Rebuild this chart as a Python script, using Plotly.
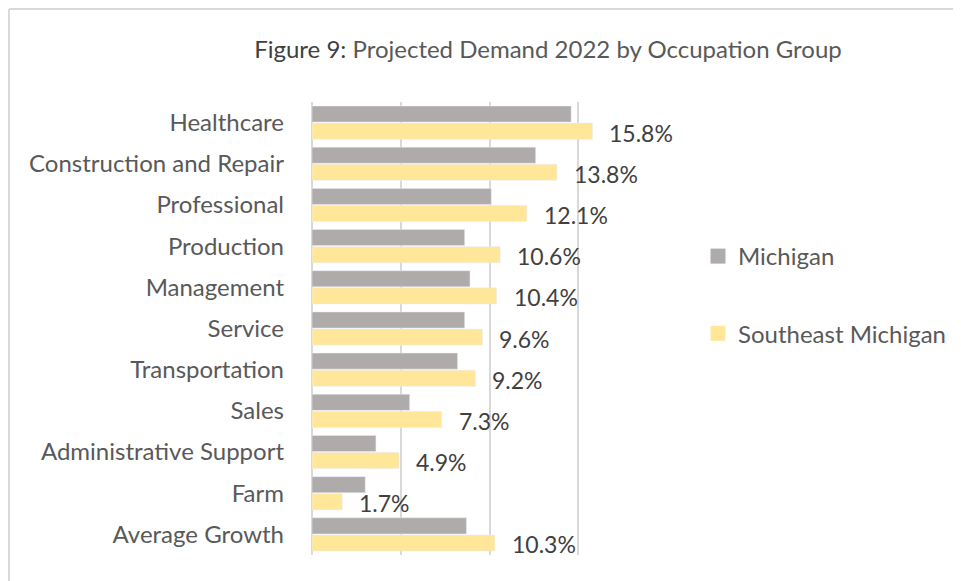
import plotly.graph_objects as go

categories = ["Healthcare", "Construction and Repair", "Professional", "Production",
              "Management", "Service", "Transportation", "Sales",
              "Administrative Support", "Farm", "Average Growth"]
michigan = [14.6, 12.6, 10.1, 8.6, 8.9, 8.6, 8.2, 5.5, 3.6, 3.0, 8.7]
southeast = [15.8, 13.8, 12.1, 10.6, 10.4, 9.6, 9.2, 7.3, 4.9, 1.7, 10.3]
series_names = ["Michigan", "Southeast Michigan"]
colors = ["#AFABAB", "#FFE699"]

FONT = "Lato"
fig = go.Figure()
fig.add_trace(go.Bar(y=categories, x=michigan, orientation="h", name=series_names[0],
                     marker=dict(color=colors[0]), showlegend=False))
fig.add_trace(go.Bar(y=categories, x=southeast, orientation="h", name=series_names[1],
                     marker=dict(color=colors[1]), showlegend=False))
# legend entries (square swatches)
for i, (nm, col) in enumerate(zip(series_names, colors)):
    fig.add_trace(go.Scatter(x=[None], y=[None], mode="markers", name=nm,
                             marker=dict(symbol="square", size=15, color=col),
                             legendgroup=f"g{i}", showlegend=True))

for c, v in zip(categories, southeast):
    fig.add_annotation(x=v, y=c, text=f"{v:.1f}%", showarrow=False, xanchor="left",
                       xshift=15, yshift=-10,
                       font=dict(family=FONT, size=23, color="#404040"))

PL, PR, PT, PB = 304, 659, 94, 547
W = PR - PL
H = PB - PT
n = len(categories)

fig.update_layout(
    width=961, height=581,
    paper_bgcolor="white", plot_bgcolor="white",
    margin=dict(l=PL, r=961 - PR, t=PT, b=581 - PB),
    barmode="group", bargap=0.17, bargroupgap=0.06,
    title=dict(text="<span style='color:#404040'>Figure 9:</span> Projected Demand 2022 by Occupation Group",
               x=540/961, xanchor="center", y=1-42/581, yanchor="middle",
               font=dict(family=FONT, size=24, color="#595959")),
    xaxis=dict(range=[0, 20], dtick=5, showticklabels=False, showgrid=True,
               gridcolor="#D9D9D9", gridwidth=1.5, zeroline=True, zerolinecolor="#D9D9D9",
               zerolinewidth=1.5, fixedrange=True),
    yaxis=dict(range=[n - 0.5, -0.5], autorange=False, showgrid=False, ticklabelstandoff=27,
               tickfont=dict(family=FONT, size=24, color="#595959"), ticks="",
               automargin=False),
    legend=dict(x=(690-PL)/W, xanchor="left", y=(PB-287)/H, yanchor="middle",
                font=dict(family=FONT, size=24, color="#595959"),
                tracegroupgap=43, itemwidth=30),
    showlegend=True,
)

# chart-area border (top and left edges)
fig.add_shape(type="line", xref="paper", yref="paper",
              x0=(1-PL)/W, x1=(961-PL)/W, y0=(PB-1)/H, y1=(PB-1)/H,
              line=dict(color="#D9D9D9", width=2))
fig.add_shape(type="line", xref="paper", yref="paper",
              x0=(1-PL)/W, x1=(1-PL)/W, y0=(PB-1)/H, y1=(PB-600)/H,
              line=dict(color="#D9D9D9", width=2))

fig.write_html("out.html")
